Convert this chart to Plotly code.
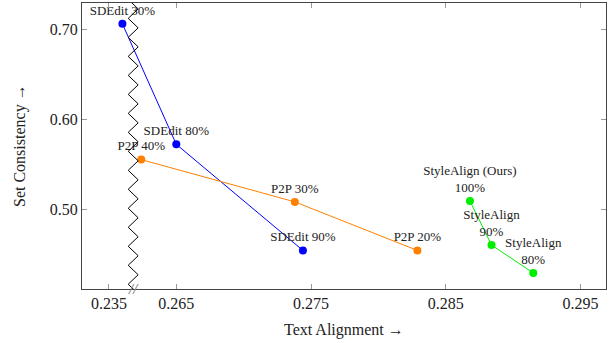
import numpy as np
import plotly.graph_objects as go

# ---- data (actual values) ----
sdedit_x = [0.2360, 0.2650, 0.2744]
sdedit_y = [0.706, 0.572, 0.454]
sdedit_labels = ["SDEdit 30%", "SDEdit 80%", "SDEdit 90%"]

p2p_x = [0.2624, 0.2738, 0.2829]
p2p_y = [0.555, 0.508, 0.454]
p2p_labels = ["P2P 40%", "P2P 30%", "P2P 20%"]

sa_x = [0.2868, 0.2884, 0.2915]
sa_y = [0.509, 0.460, 0.429]
sa_labels = ["StyleAlign (Ours)<br>100%", "StyleAlign<br>90%", "StyleAlign<br>80%"]

x_ticks = [0.235, 0.265, 0.275, 0.285, 0.295]
y_ticks = [0.50, 0.60, 0.70]

# broken x axis: values left of the break are shifted right
BREAK_AT = 0.25
BREAK_SHIFT = 0.025
BREAK_POS = 0.2618  # display position of zigzag


def disp(xs):
    return [x + BREAK_SHIFT if x < BREAK_AT else x for x in xs]


FONT = "Liberation Serif"

fig = go.Figure()
series = [
    (sdedit_x, sdedit_y, sdedit_labels, "#0000ff"),
    (p2p_x, p2p_y, p2p_labels, "#ff8000"),
    (sa_x, sa_y, sa_labels, "#00ee00"),
]
for xs, ys, labels, col in series:
    fig.add_trace(go.Scatter(
        x=disp(xs), y=ys, mode="lines+markers+text",
        text=labels, textposition="top center",
        textfont=dict(family=FONT, size=13, color="#222"),
        line=dict(color=col, width=1),
        marker=dict(color=col, size=8),
        showlegend=False, cliponaxis=False,
    ))

XR = [0.2580, 0.2969]
YR = [0.4111, 0.7292]

# zigzag break decoration
amp = 0.00037
step = 0.01056
ys_z = np.arange(YR[1] + 0.004, YR[0] - step, -step)
path = ""
for i, yv in enumerate(ys_z):
    xv = BREAK_POS + (amp if i % 2 else -amp)
    path += ("M" if i == 0 else "L") + f"{xv},{yv} "
fig.add_shape(type="path", path=path, xref="x", yref="y",
              line=dict(color="black", width=1), layer="above")

fig.add_annotation(x=BREAK_POS, y=YR[0], xref="x", yref="y", text="<i><b>//</b></i>",
                   showarrow=False, font=dict(family=FONT, size=15, color="#888"),
                   xanchor="center", yanchor="middle")

# axis titles as annotations for exact placement
fig.add_annotation(x=0.5, y=0, xref="paper", yref="paper", yshift=-41,
                   text="Text Alignment →", showarrow=False,
                   font=dict(family=FONT, size=16, color="#222"),
                   xanchor="center", yanchor="middle")
fig.add_annotation(x=0, y=0.5, xref="paper", yref="paper", xshift=-62,
                   text="Set Consistency →", showarrow=False, textangle=-90,
                   font=dict(family=FONT, size=16, color="#222"),
                   xanchor="center", yanchor="middle")

fig.update_xaxes(
    range=XR, tickvals=disp(x_ticks), ticktext=[f"{v:.3f}" for v in x_ticks],
    ticks="inside", ticklen=5, tickcolor="#999", showline=True, linecolor="#444",
    linewidth=1, mirror="ticks", showgrid=False, zeroline=False, automargin=False,
    tickfont=dict(family=FONT, size=16, color="#222"),
)
fig.update_yaxes(
    range=YR, tickvals=y_ticks, ticktext=[f"{v:.2f}" for v in y_ticks],
    ticks="inside", ticklen=5, tickcolor="#999", showline=True, linecolor="#444",
    linewidth=1, mirror="ticks", showgrid=False, zeroline=False, automargin=False,
    tickfont=dict(family=FONT, size=16, color="#222"),
)
fig.update_layout(
    width=612, height=343, margin=dict(l=82, r=6, t=3, b=54),
    plot_bgcolor="white", paper_bgcolor="white",
)
fig.write_html("out.html", config={"displayModeBar": False},
               post_script="document.body.style.margin='0';")
